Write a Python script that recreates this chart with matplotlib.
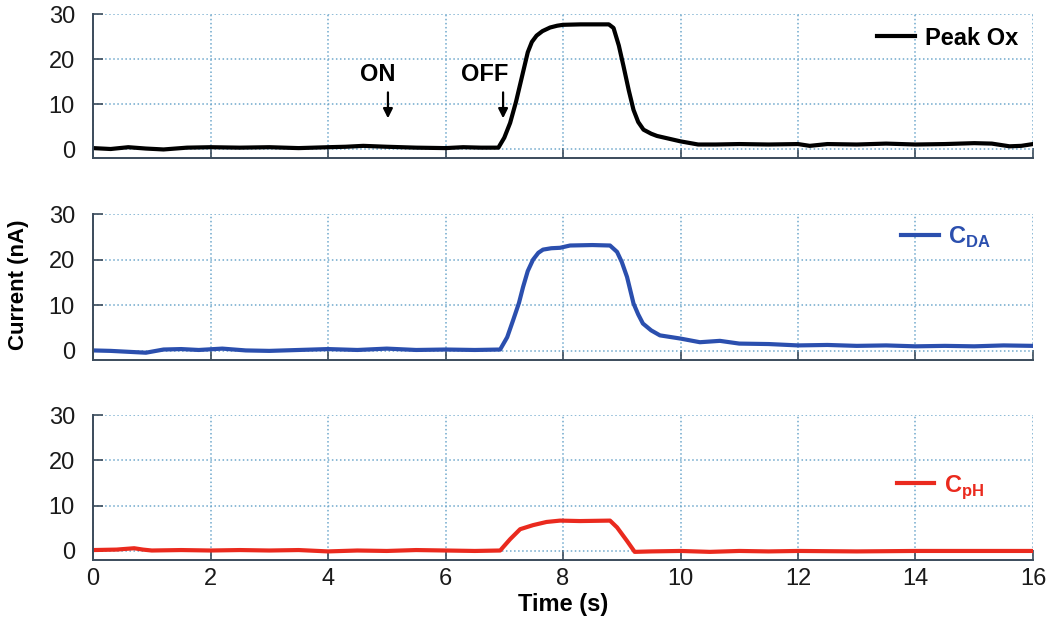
import matplotlib
matplotlib.use("Agg")
import matplotlib.pyplot as plt

plt.rcParams['font.family'] = ['Liberation Sans', 'DejaVu Sans']
plt.rcParams['mathtext.fontset'] = 'custom'
plt.rcParams['mathtext.rm'] = 'Liberation Sans'
plt.rcParams['mathtext.bf'] = 'Liberation Sans:bold'

# ---- data ----
t_ox = [0, 0.3, 0.6, 0.9, 1.2, 1.6, 2.0, 2.5, 3.0, 3.5, 4.0, 4.3, 4.6, 5.0, 5.5, 6.0, 6.3, 6.6,
        6.9, 7.0, 7.1, 7.2, 7.3, 7.4, 7.47, 7.55, 7.65, 7.78, 7.9, 8.0, 8.3, 8.6, 8.78,
        8.86, 8.95, 9.03, 9.12, 9.2, 9.28, 9.37, 9.5, 9.6, 10.0, 10.3, 10.6, 11.0, 11.5, 12.0,
        12.2, 12.5, 13.0, 13.5, 14.0, 14.5, 15.0, 15.3, 15.6, 15.8, 16.0]
peak_ox = [0.2, 0.0, 0.4, 0.1, -0.1, 0.3, 0.4, 0.3, 0.4, 0.2, 0.4, 0.5, 0.7, 0.5, 0.3, 0.2, 0.4, 0.3,
           0.3, 2.5, 5.8, 10.5, 16.0, 21.5, 23.8, 25.2, 26.2, 27.0, 27.4, 27.6, 27.7, 27.7, 27.7,
           26.9, 23.0, 18.4, 13.0, 8.7, 6.0, 4.3, 3.4, 2.9, 1.7, 1.0, 1.0, 1.1, 1.0, 1.1,
           0.7, 1.1, 1.0, 1.2, 1.0, 1.1, 1.3, 1.2, 0.6, 0.7, 1.1]

t_da = [0, 0.3, 0.6, 0.9, 1.2, 1.5, 1.8, 2.2, 2.6, 3.0, 3.5, 4.0, 4.5, 5.0, 5.5, 6.0, 6.5,
        6.93, 7.05, 7.15, 7.25, 7.32, 7.4, 7.49, 7.58, 7.66, 7.8, 7.95, 8.12, 8.5, 8.8,
        8.92, 9.0, 9.09, 9.2, 9.28, 9.36, 9.5, 9.65, 10.0, 10.33, 10.67, 11.0, 11.5, 12.0,
        12.5, 13.0, 13.5, 14.0, 14.5, 15.0, 15.5, 16.0]
c_da = [0.1, 0.0, -0.2, -0.4, 0.3, 0.4, 0.2, 0.5, 0.1, 0.0, 0.2, 0.4, 0.2, 0.5, 0.2, 0.3, 0.2,
        0.3, 3.0, 6.7, 10.5, 14.0, 17.5, 20.0, 21.5, 22.2, 22.5, 22.6, 23.1, 23.2, 23.1,
        21.7, 19.5, 16.2, 10.4, 8.0, 6.0, 4.5, 3.4, 2.7, 1.9, 2.2, 1.6, 1.5, 1.2,
        1.3, 1.1, 1.2, 1.0, 1.1, 1.0, 1.2, 1.1]

t_ph = [0, 0.4, 0.7, 0.85, 1.0, 1.5, 2.0, 2.5, 3.0, 3.5, 4.0, 4.5, 5.0, 5.5, 6.0, 6.5,
        6.93, 7.1, 7.27, 7.49, 7.72, 7.95, 8.29, 8.8, 8.92, 9.09, 9.22, 9.5, 10.0, 10.5,
        11.0, 11.5, 12.0, 13.0, 14.0, 15.0, 16.0]
c_ph = [0.2, 0.3, 0.6, 0.3, 0.1, 0.2, 0.1, 0.2, 0.1, 0.2, -0.1, 0.1, 0.0, 0.2, 0.1, 0.0,
        0.1, 2.6, 4.8, 5.7, 6.4, 6.7, 6.6, 6.7, 5.2, 2.2, -0.2, -0.1, 0.0, -0.2,
        0.0, -0.1, 0.0, -0.1, 0.0, 0.0, 0.0]

series = [(t_ox, peak_ox, 'Peak Ox', '#000000'),
          (t_da, c_da, r'$\mathbf{C}_{\mathbf{DA}}$', '#2b4fae'),
          (t_ph, c_ph, r'$\mathbf{C}_{\mathbf{pH}}$', '#ea2a1e')]

xticks = [0, 2, 4, 6, 8, 10, 12, 14, 16]
yticks = [0, 10, 20, 30]

# axes boxes in figure fractions [left, bottom, width, height]
boxes = [[0.0886, 0.7476, 0.8952, 0.230],
         [0.0886, 0.4249, 0.8952, 0.2332],
         [0.0886, 0.1054, 0.8952, 0.2316]]
leg_anchor = [(0.984, 0.833), (0.955, 0.842), (0.948, 0.503)]

fig = plt.figure(figsize=(10.5, 6.26), dpi=100)
axes = []
for i, (t, y, lab, col) in enumerate(series):
    ax = fig.add_axes(boxes[i])
    ax.plot(t, y, color=col, lw=3.0, label=lab, solid_joinstyle='round')
    ax.set_xlim(0, 16)
    ax.set_ylim(-2, 30)
    ax.set_xticks(xticks)
    ax.set_yticks(yticks)
    ax.grid(True, linestyle=':', color='#6fa8cc', lw=1.1)
    ax.spines['top'].set_visible(False)
    ax.spines['right'].set_visible(False)
    for s in ['left', 'bottom']:
        ax.spines[s].set_color('#3b4b5b')
        ax.spines[s].set_linewidth(1.4)
    ax.tick_params(direction='in', length=7, width=1.2, color='#3b4b5b',
                   labelsize=17, labelcolor='#1a1a1a')
    ax.tick_params(axis='y', pad=13)
    ax.tick_params(axis='x', pad=6)
    if i < 2:
        ax.tick_params(axis='x', labelbottom=False)
    leg = ax.legend(loc='center right', bbox_to_anchor=leg_anchor[i], frameon=False,
                    handlelength=1.6, handletextpad=0.4, borderaxespad=0, borderpad=0,
                    labelcolor='linecolor', prop={'size': 17, 'weight': 'bold'})
    axes.append(ax)

axes[2].set_xlabel('Time (s)', fontsize=17, fontweight='bold', labelpad=2)
fig.text(0.018, 1 - 285 / 626, 'Current (nA)', rotation=90, fontsize=16,
         fontweight='bold', ha='center', va='center')

# ON / OFF markers
ax0 = axes[0]
ax0.annotate('', xy=(5.02, 6.2), xytext=(5.02, 13.2),
             arrowprops=dict(arrowstyle='-|>', color='k', lw=1.6, mutation_scale=14))
ax0.text(4.85, 16.5, 'ON', fontsize=17, fontweight='bold', ha='center', va='center')
ax0.annotate('', xy=(6.98, 6.2), xytext=(6.98, 13.2),
             arrowprops=dict(arrowstyle='-|>', color='k', lw=1.6, mutation_scale=14))
ax0.text(6.67, 16.5, 'OFF', fontsize=17, fontweight='bold', ha='center', va='center')

fig.savefig('out.png', dpi=100)
